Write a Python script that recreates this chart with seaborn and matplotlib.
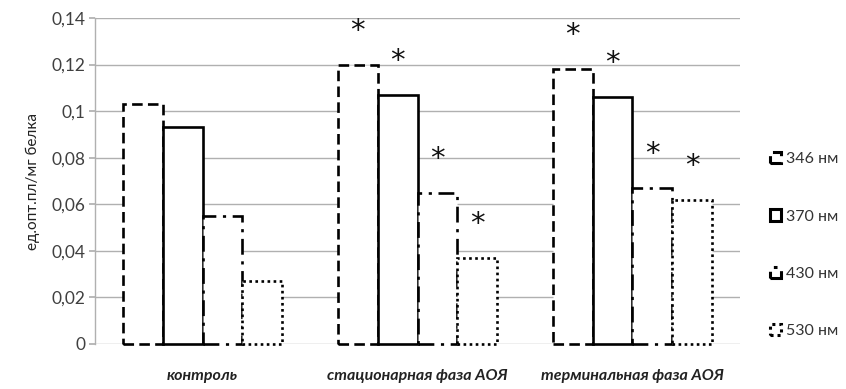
import matplotlib
matplotlib.use("Agg")
import matplotlib.pyplot as plt
import seaborn as sns
import pandas as pd
from matplotlib.patches import Patch
from matplotlib.ticker import FuncFormatter

groups = ["контроль", "стационарная фаза АОЯ", "терминальная фаза АОЯ"]
series = ["346 нм", "370 нм", "430 нм", "530 нм"]
v346 = [0.103, 0.120, 0.118]
v370 = [0.093, 0.107, 0.106]
v430 = [0.055, 0.065, 0.067]
v530 = [0.027, 0.037, 0.062]
signif = [[False, True, True], [False, True, True], [False, True, True], [False, True, True]]
yticks = [0, 0.02, 0.04, 0.06, 0.08, 0.1, 0.12, 0.14]

rows = []
for s, vals in zip(series, [v346, v370, v430, v530]):
    for g, v in zip(groups, vals):
        rows.append({"group": g, "series": s, "value": v})
df = pd.DataFrame(rows)

sns.set_theme(style="white")
plt.rcParams["font.family"] = ["Lato", "DejaVu Sans"]

fig = plt.figure(figsize=(8.46, 3.89), dpi=100)
ax = fig.add_axes([0.1123, 0.1157, 0.7624, 0.838])

sns.barplot(data=df, x="group", y="value", hue="series", order=groups,
            hue_order=series, width=0.74, gap=0, ax=ax, legend=False,
            palette=["white"] * 4, saturation=1)

styles = [(0, (4, 2)), "solid", (0, (6, 2.5, 1.2, 2.5)), (0, (1, 1.3))]
for cont, ls, sig in zip(ax.containers, styles, signif):
    for bar, flag in zip(cont, sig):
        bar.set_facecolor("white")
        bar.set_edgecolor("black")
        bar.set_linewidth(1.9)
        bar.set_linestyle(ls)
        bar.set_clip_on(False)
        if flag:
            ax.text(bar.get_x() + bar.get_width() / 2, bar.get_height() + 0.0145,
                    "*", ha="center", va="center", fontsize=21,
                    family=["DejaVu Sans"], color="#111111")

ax.set_ylim(0, 0.14)
ax.set_yticks(yticks)
ax.yaxis.set_major_formatter(FuncFormatter(
    lambda v, p: "0" if v == 0 else ("%.2f" % v).rstrip("0").replace(".", ",")))
ax.grid(axis="y", color="#b0b0b0", linewidth=1)
ax.set_axisbelow(True)
for sp in ["top", "right", "bottom"]:
    ax.spines[sp].set_visible(False)
ax.spines["left"].set_color("#b0b0b0")
ax.spines["left"].set_linewidth(1)
ax.tick_params(axis="y", left=True, length=4, color="#b0b0b0", labelsize=12.5,
               labelcolor="#404040", pad=3)
ax.tick_params(axis="x", bottom=False, labelsize=11.5, pad=12)
for lab in ax.get_xticklabels():
    lab.set_fontstyle("italic")
    lab.set_fontweight("bold")
    lab.set_color("#222222")
ax.set_xlabel("")
ax.set_ylabel("ед.опт.пл/мг белка", fontsize=11, color="#222222", labelpad=8)

handles = [Patch(facecolor="white", edgecolor="black", linewidth=2.2, linestyle=ls, label=s)
           for s, ls in zip(series, styles)]
fig.legend(handles=handles, loc="center left", bbox_to_anchor=(0.893, 0.37),
           frameon=False, fontsize=11.5, handlelength=0.7, handleheight=0.7,
           handletextpad=0.3, labelspacing=2.7, labelcolor="#333333")

fig.savefig("out.png", dpi=100)
